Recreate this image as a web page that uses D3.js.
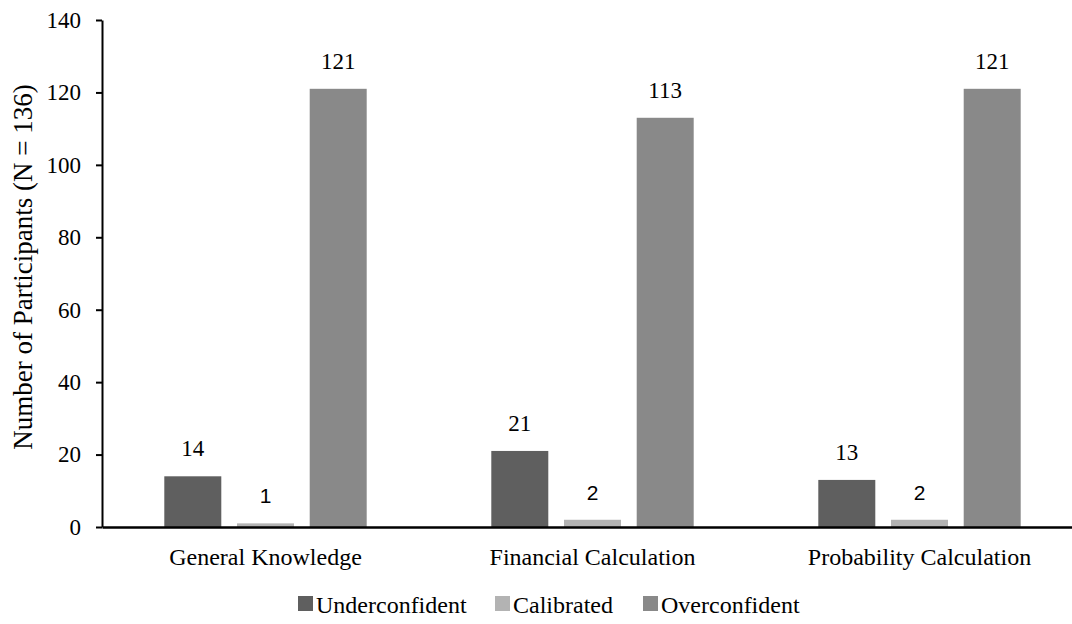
<!DOCTYPE html>
<html><head><meta charset="utf-8">
<script src="https://cdn.jsdelivr.net/npm/d3@7"></script>
<style>body{margin:0;background:#fff}svg{display:block}</style>
</head><body>
<svg id="c" width="1072" height="624"></svg>
<script>
const categories = ["General Knowledge", "Financial Calculation", "Probability Calculation"];
const seriesNames = ["Underconfident", "Calibrated", "Overconfident"];
const underconfident = [14, 21, 13];
const calibrated = [1, 2, 2];
const overconfident = [121, 113, 121];
const yTicks = [0, 20, 40, 60, 80, 100, 120, 140];
const colors = ["#5f5f5f", "#b3b3b3", "#898989"];

const svg = d3.select("#c");
const serif = "'Liberation Serif','Times New Roman',serif";
const sans = "'Liberation Sans',Arial,sans-serif";
const x0 = 102, yBase = 527, yTop = 20;
const x = d3.scaleBand().domain(categories).range([x0, x0 + 3 * 327]).padding(0);
const y = d3.scaleLinear().domain([0, 140]).range([yBase, yTop]);
const xs = d3.scaleBand().domain(seriesNames).range([-101.2, 101.2]).paddingInner(0.216).paddingOuter(0);

const series = [underconfident, calibrated, overconfident];
const data = [];
categories.forEach((c, i) => series.forEach((s, j) => data.push({c, s: seriesNames[j], v: s[i], j})));

svg.selectAll("rect.bar").data(data).join("rect").attr("class", "bar")
  .attr("x", d => x(d.c) + x.bandwidth() / 2 + xs(d.s))
  .attr("width", xs.bandwidth())
  .attr("y", d => y(d.v)).attr("height", d => y(0) - y(d.v))
  .attr("fill", d => colors[d.j]);

svg.selectAll("text.val").data(data).join("text").attr("class", "val")
  .attr("x", d => x(d.c) + x.bandwidth() / 2 + xs(d.s) + xs.bandwidth() / 2)
  .attr("y", d => y(d.v) - 20)
  .attr("text-anchor", "middle")
  .attr("font-family", d => d.j === 1 ? sans : serif)
  .attr("font-size", d => d.j === 1 ? 21 : 23)
  .text(d => d.v);

// y axis
const ya = svg.append("g").attr("transform", `translate(${x0},0)`)
  .call(d3.axisLeft(y).tickValues(yTicks).tickSize(6).tickPadding(15).tickSizeOuter(0));
ya.select(".domain").attr("stroke", "#000").attr("stroke-width", 2);
ya.selectAll(".tick line").attr("stroke", "#000").attr("stroke-width", 2);
ya.selectAll(".tick text").attr("font-family", serif).attr("font-size", 23).attr("fill", "#000");

// x axis
const xa = svg.append("g").attr("transform", `translate(0,${yBase})`)
  .call(d3.axisBottom(x).tickSize(0).tickPadding(21).tickSizeOuter(0));
xa.select(".domain").attr("stroke", "#000").attr("stroke-width", 2.5);
xa.selectAll(".tick text").attr("font-family", serif).attr("font-size", 24).attr("fill", "#000");

// y label
svg.append("text").attr("transform", "translate(32,267) rotate(-90)")
  .attr("text-anchor", "middle").attr("font-family", serif).attr("font-size", 27)
  .text("Number of Participants (N = 136)");

// legend
const legX = [298, 495, 643];
const lg = svg.selectAll("g.leg").data(seriesNames).join("g").attr("class", "leg")
  .attr("transform", (d, i) => `translate(${legX[i]},596)`);
lg.append("rect").attr("width", 15).attr("height", 15).attr("fill", (d, i) => colors[i]);
lg.append("text").attr("x", 18).attr("y", 17).attr("font-family", serif).attr("font-size", 24).text(d => d);
</script>
</body></html>
